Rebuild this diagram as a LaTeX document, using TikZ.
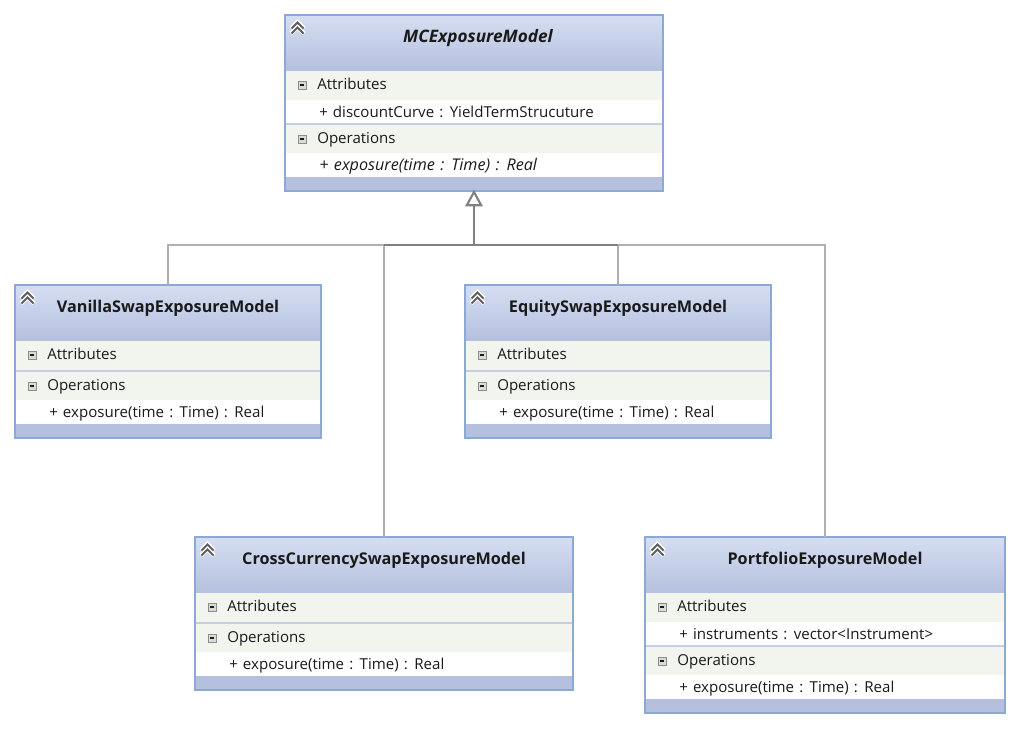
\documentclass[tikz,border=0pt]{standalone}
\usepackage{fontspec}
\setmainfont{Open Sans}
\usetikzlibrary{arrows.meta,calc}
\definecolor{umlborder}{HTML}{8CA9D6}
\definecolor{umltop}{HTML}{D5DEF1}
\definecolor{umlbot}{HTML}{B5C0DF}
\definecolor{umlsec}{HTML}{F2F5EE}
\definecolor{umlsep}{HTML}{C4CFE4}
\definecolor{umltext}{HTML}{1A1A1A}
\definecolor{umlline}{HTML}{B0B0B0}
\definecolor{umlmain}{HTML}{808080}
\definecolor{umlicon}{HTML}{D8DCD8}
\tikzset{
  classframe/.style={draw=umlborder,line width=1.5pt,fill=none,inner sep=0pt,outer sep=0pt},
  classtitle/.style={font=\fontsize{12.15}{14}\selectfont\bfseries,text=umltext,inner sep=0pt,anchor=center},
  italictitle/.style={font=\fontsize{12.9}{15}\selectfont\bfseries\itshape,text=umltext,inner sep=0pt,anchor=center,xshift=3pt},
  rowlabel/.style={font=\fontsize{11.3}{13}\selectfont,text=umltext,inner sep=0pt,anchor=base west},
  italicrow/.style={rowlabel,font=\fontsize{12.1}{14}\selectfont\itshape},
  conn/.style={draw=umlline,line width=1.5pt},
  connmain/.style={draw=umlmain,line width=1.5pt},
  gen/.style={draw=umlmain,line width=1.6pt,-{Triangle[open,length=12.5pt,width=13pt,line width=1.6pt]},shorten >=-1pt},
  chev/.style={line width=1.5pt,draw=#1,line join=miter},
}
% name, x1, y1, x2, y2, title style, title text
\newcommand{\umlframe}[7]{%
  \fill[umlbot] (#2,#3) rectangle (#4,#5);
  \shade[top color=umltop,bottom color=umlbot] (#2,#3) rectangle (#4,{#3+56});
  \foreach \d in {0,5}{
    \draw[white,line width=3.4pt] ({#2+6},{#3+13.5+\d}) -- ({#2+12.5},{#3+7+\d}) -- ({#2+19},{#3+13.5+\d});}
  \foreach \d in {0,5}{
    \draw[chev=umltext!70] ({#2+6.5},{#3+13.5+\d}) -- ({#2+12.5},{#3+7.5+\d}) -- ({#2+18.5},{#3+13.5+\d});}
  \node[#6] (#1title) at ({(#2+#4)/2},{#3+23}) {#7};
}
% name, x1, x2, ytop, label
\newcommand{\umlsection}[5]{%
  \fill[umlsec] (#2,#4) rectangle (#3,{#4+29});
  \draw[umltext!50,line width=.6pt,fill=umlicon] ({#2+13},{#4+10}) rectangle ({#2+21},{#4+18});
  \draw[umltext,line width=.8pt] ({#2+15},{#4+14}) -- ({#2+19},{#4+14});
  \node[rowlabel] (#1) at ({#2+32},{#4+18.5}) {#5};
}
% name, x1, x2, ytop, style, text
\newcommand{\umlrow}[6]{%
  \fill[white] (#2,#4) rectangle (#3,{#4+24});
  \node[#5] (#1) at ({#2+34},{#4+17}) {\spaceskip=.34em\relax #6};
}
\newcommand{\umlsep}[3]{\fill[umlsep] (#1,#3) rectangle (#2,{#3+2});}
\begin{document}
\begin{tikzpicture}[x=0.75pt,y=-0.75pt]
\useasboundingbox (0,0) rectangle (1020,728);
\fill[white] (0,0) rectangle (1020,728);

% MCExposureModel
\umlframe{mc}{285}{15}{663}{191}{italictitle}{MCExposureModel}
\umlsection{mcA}{285}{663}{71}{Attributes}
\umlrow{mcAa}{285}{663}{100}{rowlabel}{+ discountCurve : YieldTermStrucuture}
\umlsep{285}{663}{123}
\umlsection{mcO}{285}{663}{125}{Operations}
\umlrow{mcOa}{285}{663}{153}{italicrow}{+ exposure(time : Time) : Real}
\node[classframe,minimum width=283.5pt,minimum height=132pt] (mc) at (474,103) {};

% VanillaSwapExposureModel
\umlframe{va}{15}{285}{321}{438}{classtitle}{VanillaSwapExposureModel}
\umlsection{vaA}{15}{321}{341}{Attributes}
\umlsep{15}{321}{370}
\umlsection{vaO}{15}{321}{372}{Operations}
\umlrow{vaOa}{15}{321}{400}{rowlabel}{+ exposure(time : Time) : Real}
\node[classframe,minimum width=229.5pt,minimum height=114.75pt] (va) at (168,361.5) {};

% EquitySwapExposureModel
\umlframe{eq}{465}{285}{771}{438}{classtitle}{EquitySwapExposureModel}
\umlsection{eqA}{465}{771}{341}{Attributes}
\umlsep{465}{771}{370}
\umlsection{eqO}{465}{771}{372}{Operations}
\umlrow{eqOa}{465}{771}{400}{rowlabel}{+ exposure(time : Time) : Real}
\node[classframe,minimum width=229.5pt,minimum height=114.75pt] (eq) at (618,361.5) {};

% CrossCurrencySwapExposureModel
\umlframe{cc}{195}{537}{573}{690}{classtitle}{CrossCurrencySwapExposureModel}
\umlsection{ccA}{195}{573}{593}{Attributes}
\umlsep{195}{573}{622}
\umlsection{ccO}{195}{573}{624}{Operations}
\umlrow{ccOa}{195}{573}{652}{rowlabel}{+ exposure(time : Time) : Real}
\node[classframe,minimum width=283.5pt,minimum height=114.75pt] (cc) at (384,613.5) {};

% PortfolioExposureModel
\umlframe{pf}{645}{537}{1005}{713}{classtitle}{PortfolioExposureModel}
\umlsection{pfA}{645}{1005}{593}{Attributes}
\umlrow{pfAa}{645}{1005}{622}{rowlabel}{+ instruments : vector<Instrument>}
\umlsep{645}{1005}{645}
\umlsection{pfO}{645}{1005}{647}{Operations}
\umlrow{pfOa}{645}{1005}{675}{rowlabel}{+ exposure(time : Time) : Real}
\node[classframe,minimum width=270pt,minimum height=132pt] (pf) at (825,625) {};

% Connectors
\coordinate (junction) at (474,245);
\draw[conn] (va.north) |- (junction);
\draw[conn] (pf.north) |- (junction);
\draw[conn] (eq.north) |- (junction);
\draw[conn] (cc.north) |- (junction);
\draw[connmain] (cc.north |- junction) -- (eq.north |- junction);
\draw[gen] (junction) -- (mc.south);
\end{tikzpicture}
\end{document}
